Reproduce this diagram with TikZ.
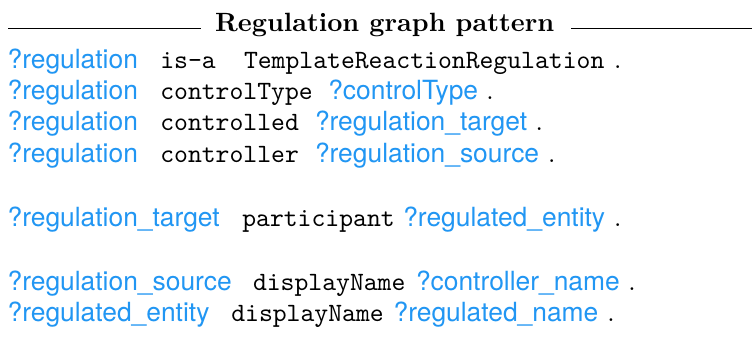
\documentclass[tikz,border=0pt]{standalone}
\usepackage{fontspec}
\setmainfont{lmroman10-regular}[Extension=.otf, BoldFont=lmroman10-bold]
\setsansfont{TeX Gyre Heros}
\setmonofont{lmmono10-regular}[Extension=.otf]
\definecolor{varblue}{HTML}{2196F3}
\tikzset{
  tok/.style={inner sep=0pt, outer sep=0pt, anchor=base west, font=\fontsize{26.4}{30}\selectfont},
  var/.style={tok, text=varblue, font=\fontsize{26.4}{30}\selectfont\sffamily},
  pred/.style={tok, text=black, font=\fontsize{26.4}{30}\selectfont\ttfamily},
  enddot/.style={tok, anchor=base, text=black},
  titletext/.style={tok, anchor=base, font=\fontsize{26.4}{30}\selectfont\bfseries},
  rule/.style={draw=black, line width=1.1pt}
}
\begin{document}
\begin{tikzpicture}[x=1pt,y=-1pt]
\useasboundingbox[fill=white] (0,0) rectangle (752,349);
% title
\node[titletext] (title) at (384.7,31.5) {Regulation graph pattern};
\coordinate (rl1) at (8,28.3);
\coordinate (rl2) at (201,28.3);
\coordinate (rr1) at (571,28.3);
\coordinate (rr2) at (752,28.3);
\draw[rule] (rl1) -- (rl2);
\draw[rule] (rr1) -- (rr2);
% line 1
\node[var] (s1) at (7.6,68.3) {?regulation};
\node[pred] (p1) at (160.3,68.3) {is-a};
\node[pred] (o1) at (244,68.3) {TemplateReactionRegulation};
\node[enddot] (d1) at (617.7,68.3) {.};
% line 2
\node[var] (s2) at (7.6,99.7) {?regulation};
\node[pred] (p2) at (160.3,99.7) {controlType};
\node[var] (o2) at (328.3,99.7) {?controlType};
\node[enddot] (d2) at (490,99.7) {.};
% line 3
\node[var] (s3) at (7.6,130.8) {?regulation};
\node[pred] (p3) at (160.3,130.8) {controlled};
\node[var] (o3) at (315,130.8) {?regulation\_target};
\node[enddot] (d3) at (539.3,130.8) {.};
% line 4
\node[var] (s4) at (7.6,162) {?regulation};
\node[pred] (p4) at (160.3,162) {controller};
\node[var] (o4) at (315,162) {?regulation\_source};
\node[enddot] (d4) at (551.7,162) {.};
% line 5
\node[var] (s5) at (7.6,226) {?regulation\_target};
\node[pred] (p5) at (242.3,226) {participant};
\node[var] (o5) at (403.3,226) {?regulated\_entity};
\node[enddot] (d5) at (617.7,226) {.};
% line 6
\node[var] (s6) at (7.6,290) {?regulation\_source};
\node[pred] (p6) at (253,290) {displayName};
\node[var] (o6) at (416,290) {?controller\_name};
\node[enddot] (d6) at (632,290) {.};
% line 7
\node[var] (s7) at (7.6,321.5) {?regulated\_entity};
\node[pred] (p7) at (231.3,321.5) {displayName};
\node[var] (o7) at (393.6,321.5) {?regulated\_name};
\node[enddot] (d7) at (611,321.5) {.};
\end{tikzpicture}
\end{document}
